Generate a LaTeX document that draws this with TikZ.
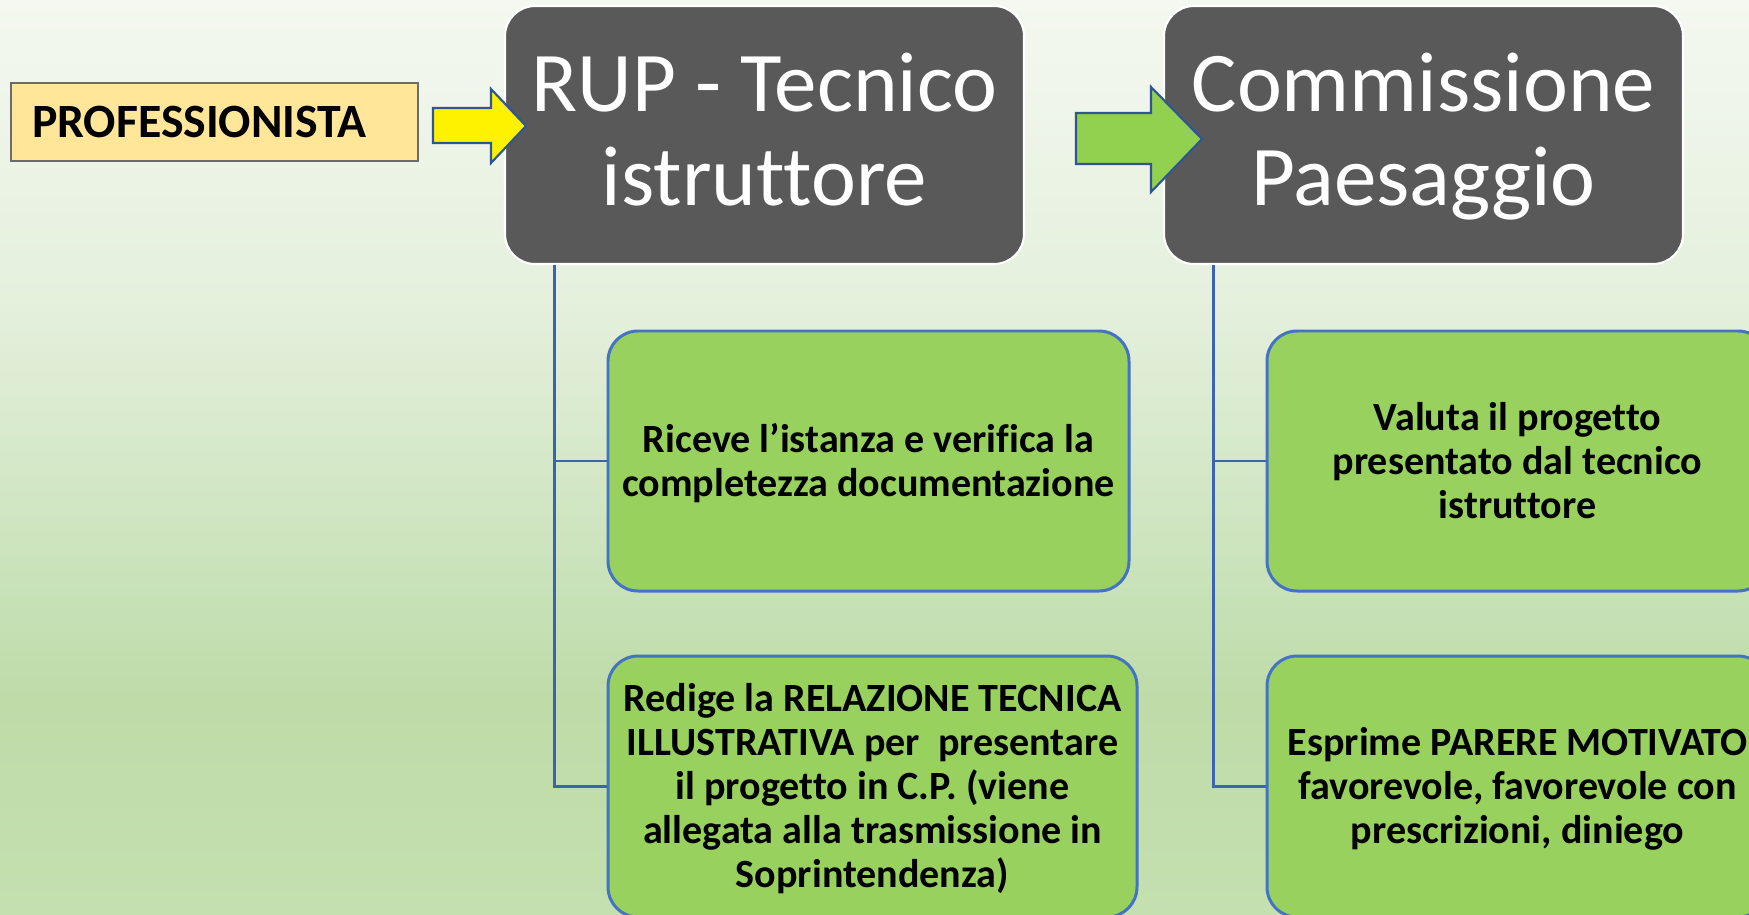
\documentclass[tikz,border=0pt]{standalone}
\usepackage{fontspec}
\usepackage{xcolor}
\usepackage{tikz}
\setmainfont{Carlito}[Ligatures=NoCommon]

\definecolor{bgtop}{HTML}{F4F8F0}
\definecolor{bgupper}{HTML}{E5F0DD}
\definecolor{bglower}{HTML}{C7E1B7}
\definecolor{bgdeep}{HTML}{BEDBA8}
\definecolor{bgfoot}{HTML}{C4E0B0}
\definecolor{slate}{HTML}{595959}
\definecolor{leaf}{HTML}{99D15F}
\definecolor{leafedge}{HTML}{4472C4}
\definecolor{linkblue}{HTML}{3B64B0}
\definecolor{arrowedge}{HTML}{2F5597}
\definecolor{sand}{HTML}{FFE699}
\definecolor{sandedge}{HTML}{6B6B6B}
\definecolor{grass}{HTML}{92D050}

\pgfdeclareverticalshading{bgfade}{100bp}{color(0bp)=(bgfoot); color(25bp)=(bgfoot);
  color(36.7bp)=(bgdeep); color(42.2bp)=(bglower); color(58.6bp)=(bgupper);
  color(75bp)=(bgtop); color(100bp)=(bgtop)}

% first-line struts, a little taller than \strut
\newcommand{\headtop}{\rule{0pt}{21.5pt}}
\newcommand{\tasktop}{\rule{0pt}{11.2pt}}

\begin{document}
\begin{tikzpicture}[
        head/.style={draw=white, line width=0.6pt, fill=slate, text=white,
                     rounded corners=0.3cm, minimum width=5.19cm, minimum height=2.58cm,
                     inner sep=0pt, align=center, font=\fontsize{24.2pt}{27pt}\selectfont},
        task/.style={draw=leafedge, line width=0.85pt, fill=leaf, rounded corners=0.3cm,
                     minimum height=2.6cm, inner sep=0pt, align=center,
                     font=\fontsize{11.4pt}{12.5pt}\selectfont\bfseries},
        link/.style={draw=linkblue, line width=0.85pt},
        bigarrow/.style={draw=arrowedge, line width=0.6pt, line join=miter}
    ]
                    \useasboundingbox (0,0) rectangle (17.49,9.14);
                    \clip (0,0) rectangle (17.49,9.14);
                    \shade [shading=bgfade] (0,0) rectangle (17.49,9.14);

                    % left column
                    \node [draw=sandedge, line width=0.6pt, fill=sand, minimum height=0.78cm,
                           text width=3.65cm, inner xsep=0.21cm, inner ysep=0pt, align=left,
                           font=\fontsize{13.6pt}{15pt}\selectfont\bfseries] (prof) at (2.145,7.92) {PROFESSIONISTA};
                    \node [head] (rup) at (7.645,7.79) {\headtop RUP - Tecnico\\istruttore\strut};
                    \node [task, minimum width=5.21cm] (riceve) at (8.685,4.53)
                        {\tasktop Riceve l’istanza e verifica la\\completezza documentazione\strut};
                    \node [task, minimum width=5.29cm, minimum height=2.61cm] (redige) at (8.725,1.275)
                        {\tasktop Redige la RELAZIONE TECNICA\\ILLUSTRATIVA per~ presentare\\il progetto in C.P. (viene\\allegata alla trasmissione in\\Soprintendenza)\strut};

                    % right column
                    \node [head] (cp) at (14.235,7.79) {\headtop Commissione\\Paesaggio\strut};
                    \node [task, minimum width=5.01cm] (valuta) at (15.175,4.53)
                        {\tasktop Valuta il progetto\\presentato dal tecnico\\istruttore\strut};
                    \node [task, minimum width=5.01cm, minimum height=2.61cm] (esprime) at (15.175,1.275)
                        {\tasktop Esprime PARERE MOTIVATO\\favorevole, favorevole con\\prescrizioni, diniego\strut};

                    \draw [link] ([xshift=0.51cm]rup.south west) |- (riceve.west);
                    \draw [link] ([xshift=0.51cm]rup.south west) |- (redige.west);
                    \draw [link] ([xshift=0.51cm]cp.south west) |- (valuta.west);
                    \draw [link] ([xshift=0.51cm]cp.south west) |- (esprime.west);

                    % block arrows
                    \draw [bigarrow, fill=yellow] (4.33,8.06) -- (4.91,8.06) -- (4.91,8.25) -- (5.26,7.88)
                        -- (4.91,7.51) -- (4.91,7.71) -- (4.33,7.71) -- cycle;
                    \draw [bigarrow, fill=grass] (10.76,8.01) -- (11.51,8.01) -- (11.51,8.27) -- (12.02,7.75)
                        -- (11.51,7.22) -- (11.51,7.50) -- (10.76,7.50) -- cycle;
                \end{tikzpicture}
\end{document}
